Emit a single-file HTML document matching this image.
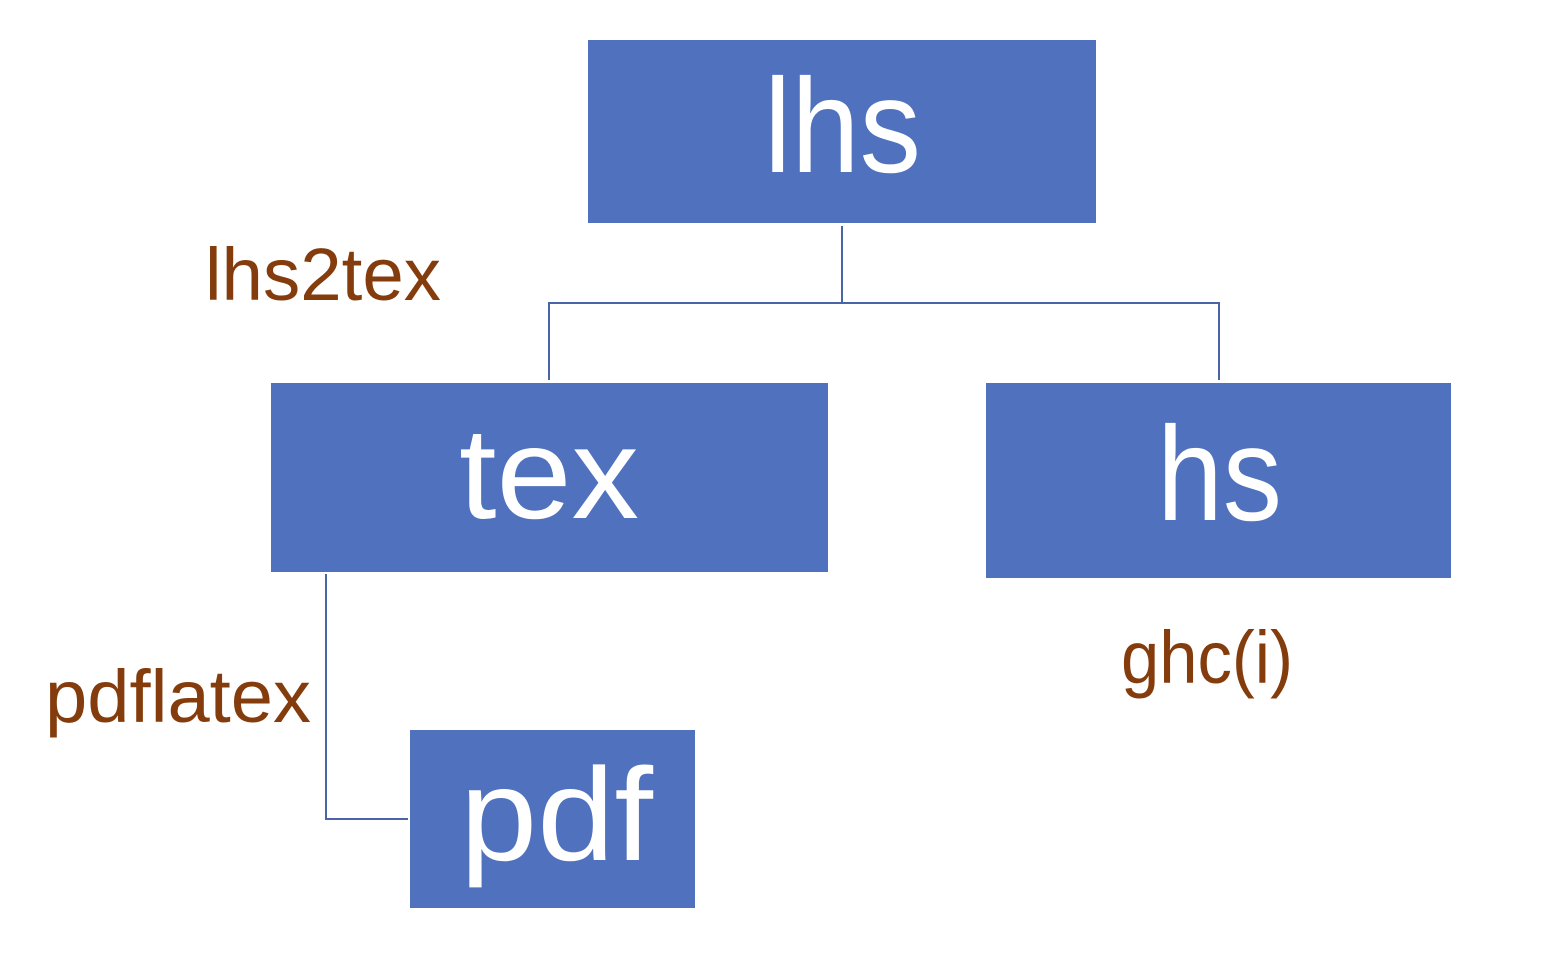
<!DOCTYPE html>
<html><head><meta charset="utf-8"><style>
html,body{margin:0;padding:0;background:#fff;}
svg{display:block;}
</style></head><body>
<svg width="1552" height="964" viewBox="0 0 1552 964" xmlns="http://www.w3.org/2000/svg">
<rect width="1552" height="964" fill="#fff"/>
<g fill="#5072BE">
<rect x="588" y="40" width="508" height="183"/>
<rect x="271" y="383" width="557" height="189"/>
<rect x="986" y="383" width="465" height="195"/>
<rect x="410" y="730" width="285" height="178"/>
</g>
<g stroke="#4A64A8" stroke-width="2" fill="none">
<path d="M842 226 V303 M549 380 V303 H1219 V380"/>
<path d="M326 574 V819 H408"/>
</g>
<g font-family="Liberation Sans, sans-serif" fill="#fff">
<text x="764" y="172" font-size="134" textLength="157" lengthAdjust="spacingAndGlyphs">lhs</text>
<text x="459" y="518" font-size="130" textLength="180" lengthAdjust="spacingAndGlyphs">tex</text>
<text x="1157" y="520" font-size="134" textLength="125" lengthAdjust="spacingAndGlyphs">hs</text>
<text x="460" y="860" font-size="132" textLength="193" lengthAdjust="spacingAndGlyphs">pdf</text>
</g>
<g font-family="Liberation Sans, sans-serif" fill="#843C0C" font-size="74">
<text x="205" y="300" textLength="236" lengthAdjust="spacingAndGlyphs">lhs2tex</text>
<text x="45" y="722" textLength="266" lengthAdjust="spacingAndGlyphs">pdflatex</text>
<text x="1121" y="683" textLength="172" lengthAdjust="spacingAndGlyphs">ghc(i)</text>
</g>
</svg>
</body></html>
